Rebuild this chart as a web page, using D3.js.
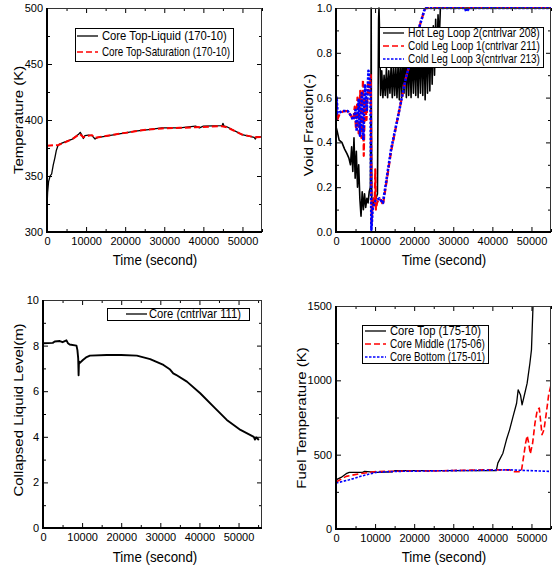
<!DOCTYPE html>
<html>
<head>
<meta charset="utf-8">
<script src="https://cdn.jsdelivr.net/npm/d3@7"></script>
<style>
  body { margin: 0; background: #fff; }
  text { font-family: "Liberation Sans", Arial, sans-serif; fill: #000; font-weight: normal; }
</style>
</head>
<body>
<script>
// ---- data ----
var timeTicks = [0, 10000, 20000, 30000, 40000, 50000];

// panel 1: core top temperatures (K)
var tempLiquid = [[0,322],[150,335],[400,345],[800,350],[1200,352],[1600,360],[2000,366],[2400,373],[2800,377],[3200,378.5],[4600,380.5],[6500,383],[8000,387],[8500,389],[9000,386],[9300,383.5],[9700,386],[10600,386.5],[11500,386],[12300,383],[13000,384.5],[14000,385],[16600,386.5],[20000,388.5],[22600,390],[26000,391.5],[29400,393],[34000,393],[38000,394.5],[39000,393],[40000,394.5],[44800,395],[45000,397],[45300,394.5],[46000,394],[49900,387],[53000,384.5],[53300,383],[53600,385],[55000,385]];
var tempSat = [[0,377],[2900,377.7],[4600,380],[6500,383],[8000,386.6],[8400,387.5],[9300,384.6],[10600,386],[11500,386.5],[12300,384],[14000,385],[16600,386.6],[20000,388.5],[22600,390],[26000,391.5],[29400,392.5],[34000,393],[38000,393.5],[44800,394.5],[46000,393.5],[49900,387],[53300,384.5],[55000,385]];
var tempLabels = ["Core Top-Liquid (170-10)", "Core Top-Saturation (170-10)"];

// panel 2: void fractions (-)
var voidHotLeg2 = [[0,0.47],[300,0.45],[800,0.41],[1500,0.40],[2200,0.37],[2800,0.35],[3300,0.33],[3700,0.30],[4000,0.38],[4300,0.27],[4600,0.42],[4900,0.24],[5200,0.36],[5500,0.20],[5800,0.30],[6100,0.15],[6400,0.07],[6700,0.18],[7000,0.10],[7300,0.17],[7600,0.11],[7900,0.15],[8200,0.13],[8500,0.18],[8800,0.20],[8950,0.60],[9000,1.0],[9050,0.55],[9150,0.15],[9400,0.12],[9800,0.14],[10200,0.15],[10600,0.17],[10900,0.95],[11000,1.0],[11200,0.85],[11400,0.61],[11700,0.72],[12000,0.60],[12300,0.70],[12600,0.61],[12900,0.73],[13200,0.60],[13500,0.72],[13800,0.62],[14100,0.74],[14400,0.60],[14700,0.75],[15000,0.61],[15300,0.74],[15600,0.60],[15900,0.76],[16200,0.59],[16500,0.77],[16800,0.60],[17100,0.78],[17400,0.62],[17700,0.79],[18000,0.60],[18300,0.80],[18600,0.61],[18900,0.81],[19200,0.60],[19500,0.82],[19800,0.62],[20100,0.83],[20400,0.61],[20700,0.84],[21000,0.60],[21300,0.85],[21600,0.62],[21900,0.86],[22200,0.61],[22500,0.87],[22800,0.59],[23100,0.88],[23400,0.62],[23700,0.89],[24000,0.63],[24300,0.90],[24600,0.66],[24900,0.92],[25200,0.70],[25500,0.95],[25800,0.75],[26100,0.97],[26400,0.85],[26700,1.0],[55000,1.0]];
var voidColdLeg1 = [[0,0.50],[150,0.58],[300,0.50],[1000,0.53],[2000,0.54],[3000,0.54],[3800,0.52],[4400,0.50],[4800,0.56],[5100,0.46],[5500,0.60],[5800,0.44],[6200,0.63],[6500,0.42],[6900,0.68],[7100,0.34],[7400,0.60],[7800,0.50],[8200,0.66],[8600,0.62],[8900,0.70],[9000,0.40],[9100,0.04],[9300,0.10],[9600,0.15],[9900,0.12],[10050,0.28],[10200,0.10],[10500,0.13],[11000,0.15],[11600,0.14],[12000,0.12],[12800,0.21],[14100,0.36],[15800,0.51],[17900,0.69],[19700,0.80],[21400,0.92],[22600,0.99],[23000,1.0],[55000,1.0]];
var voidColdLeg3 = [[0,0.50],[150,0.60],[400,0.53],[1700,0.54],[3000,0.54],[3800,0.52],[4400,0.50],[5000,0.545],[5300,0.45],[5800,0.59],[6150,0.43],[6600,0.62],[7000,0.41],[7400,0.66],[7900,0.545],[8300,0.72],[8800,0.65],[9050,0.01],[9400,0.11],[10100,0.14],[11100,0.15],[12000,0.13],[12800,0.22],[14100,0.37],[15800,0.51],[17900,0.69],[19700,0.80],[21400,0.92],[22600,0.99],[23000,1.0],[33000,1.0],[33300,0.985],[34200,1.0],[55000,1.0]];
var voidLabels = ["Hot Leg Loop 2(cntrlvar 208)", "Cold Leg Loop 1(cntrlvar 211)", "Cold Leg Loop 3(cntrlvar 213)"];

// panel 3: collapsed liquid level (m)
var coreLevel = [[0,8.1],[2500,8.12],[3000,8.18],[4300,8.2],[5000,8.15],[6000,8.23],[6400,8.1],[6800,8.05],[8560,8.0],[8800,7.8],[9000,7.44],[9100,6.7],[9200,7.3],[9300,7.22],[10200,7.37],[11000,7.48],[12000,7.56],[16300,7.59],[20000,7.59],[24000,7.56],[27400,7.41],[30800,7.15],[32500,6.95],[33300,6.78],[34000,6.72],[36800,6.42],[40200,5.91],[43600,5.32],[47000,4.74],[50500,4.30],[53900,4.0],[54200,3.88],[54500,3.98],[55200,3.86]];
var levelLabels = ["Core (cntrlvar 111)"];

// panel 4: fuel temperatures (K)
var fuelTop = [[0,331],[1300,347],[2600,372],[3400,381],[6800,381],[7300,387],[10300,381],[14500,385],[15000,392],[27350,392],[41000,392],[41400,443],[42700,510],[43600,600],[44400,667],[45300,757],[46200,846],[46600,936],[47200,902],[47600,835],[48300,913],[48900,981],[49600,1115],[50000,1205],[50400,1500]];
var fuelMid = [[0,316],[2600,354],[6000,372],[10300,387],[27350,392],[37600,398],[44400,398],[45700,385],[47400,385],[48000,488],[48500,578],[48900,627],[49300,578],[49700,506],[50300,578],[50900,712],[51500,802],[52000,813],[52400,712],[52700,634],[53200,667],[53800,779],[54400,902],[55000,969]];
var fuelBot = [[0,309],[3400,331],[6800,358],[10300,381],[14500,387],[27350,392],[35000,394],[44400,398],[55000,387]];
var fuelLabels = ["Core Top (175-10)", "Core Middle (175-06)", "Core Bottom (175-01)"];

// ---- drawing ----
var svg = d3.select("body").append("svg")
  .attr("width", 552)
  .attr("height", 566);

var styles = {
  black: {stroke: "#000", width: 1.3, dash: null},
  red: {stroke: "#ff0000", width: 1.6, dash: "6,3"},
  blue: {stroke: "#0000ff", width: 1.6, dash: "2.5,1.5"}
};

// squeeze a text horizontally (like the narrow font of the original) so it fits in maxLen
function squeeze(sel, x, y, k, maxLen) {
  sel.each(function() {
    var len = this.getComputedTextLength();
    var s = k;
    if (maxLen && len * s > maxLen) s = maxLen / len;
    d3.select(this).attr("transform", "translate(" + x + "," + y + ") scale(" + s + ",1)");
  });
}

function drawPanel(p, idx) {
  var g = svg.append("g");
  var x = d3.scaleLinear().domain(p.xDomain).range([p.left, p.right]);
  var y = d3.scaleLinear().domain(p.yDomain).range([p.bottom, p.top]);

  var clipId = "clip" + idx;
  svg.append("clipPath").attr("id", clipId).append("rect")
    .attr("x", p.left).attr("y", p.top - 1)
    .attr("width", p.right - p.left).attr("height", p.bottom - p.top + 1);

  var line = d3.line().x(function(d) { return x(d[0]); }).y(function(d) { return y(d[1]); });

  var lines = g.append("g").attr("clip-path", "url(#" + clipId + ")");
  p.series.forEach(function(s) {
    var st = styles[s.style];
    lines.append("path")
      .datum(s.data)
      .attr("d", line)
      .attr("fill", "none")
      .attr("stroke", st.stroke)
      .attr("stroke-width", s.width || st.width)
      .attr("stroke-dasharray", st.dash)
      .attr("stroke-linejoin", "round");
  });

  // axes, ticks pointing inward on all four sides
  var minorX = d3.range(0, p.xDomain[1] + 1, 5000).filter(function(v) { return timeTicks.indexOf(v) < 0; });
  var minorY = d3.range(p.yDomain[0], p.yDomain[1] + 1e-9, p.yStep / 2)
    .filter(function(v, i) { return i % 2 == 1; });
  var majorY = d3.range(p.yDomain[0], p.yDomain[1] + 1e-9, p.yStep);

  function addAxis(axis, tx, ty, labels) {
    var a = g.append("g").attr("transform", "translate(" + tx + "," + ty + ")").call(axis);
    a.attr("font-family", null).attr("font-size", null);
    a.select(".domain").remove();
    a.selectAll("line").attr("stroke", "#000").attr("stroke-width", 1);
    if (labels) a.selectAll("text").attr("font-size", 11);
    else a.selectAll("text").remove();
    return a;
  }

  addAxis(d3.axisBottom(x).tickValues(timeTicks).tickSize(-5).tickSizeOuter(0).tickPadding(5).tickFormat(d3.format("d")), 0, p.bottom, true);
  addAxis(d3.axisBottom(x).tickValues(minorX).tickSize(-3).tickSizeOuter(0), 0, p.bottom, false);
  addAxis(d3.axisTop(x).tickValues(timeTicks).tickSize(-5).tickSizeOuter(0), 0, p.top, false);
  addAxis(d3.axisTop(x).tickValues(minorX).tickSize(-3).tickSizeOuter(0), 0, p.top, false);
  addAxis(d3.axisLeft(y).tickValues(majorY).tickSize(-5).tickSizeOuter(0).tickPadding(4).tickFormat(d3.format(p.yFormat)), p.left, 0, true);
  addAxis(d3.axisLeft(y).tickValues(minorY).tickSize(-3).tickSizeOuter(0), p.left, 0, false);
  addAxis(d3.axisRight(y).tickValues(majorY).tickSize(-5).tickSizeOuter(0), p.right, 0, false);
  addAxis(d3.axisRight(y).tickValues(minorY).tickSize(-3).tickSizeOuter(0), p.right, 0, false);

  // frame
  g.append("line").attr("x1", p.left).attr("x2", p.right).attr("y1", p.top + 0.5).attr("y2", p.top + 0.5)
    .attr("stroke", "#333").attr("stroke-width", 1);
  g.append("line").attr("x1", p.right - 0.5).attr("x2", p.right - 0.5).attr("y1", p.top).attr("y2", p.bottom)
    .attr("stroke", "#333").attr("stroke-width", 1);
  g.append("line").attr("x1", p.left).attr("x2", p.left).attr("y1", p.top).attr("y2", p.bottom + 1)
    .attr("stroke", "#000").attr("stroke-width", 2);
  g.append("line").attr("x1", p.left - 1).attr("x2", p.right).attr("y1", p.bottom).attr("y2", p.bottom)
    .attr("stroke", "#000").attr("stroke-width", 2);

  // legend
  var lg = p.legend;
  g.append("rect")
    .attr("x", lg.x0 + 0.5).attr("y", lg.y0 + 0.5)
    .attr("width", lg.x1 - lg.x0).attr("height", lg.y1 - lg.y0)
    .attr("fill", "#fff").attr("stroke", "#000").attr("stroke-width", 1);
  p.series.forEach(function(s, i) {
    var st = styles[s.style];
    var ry = lg.rows[i];
    g.append("line")
      .attr("x1", lg.sx0).attr("x2", lg.sx1).attr("y1", ry).attr("y2", ry)
      .attr("stroke", st.stroke).attr("stroke-width", st.width).attr("stroke-dasharray", st.dash);
    g.append("text")
      .attr("dy", "0.35em")
      .attr("font-size", 12.5)
      .text(s.label)
      .call(squeeze, lg.tx, ry, 0.9, lg.x1 - lg.tx - 3);
  });

  // titles
  g.append("text")
    .attr("text-anchor", "middle").attr("font-size", 15.5)
    .text("Time (second)")
    .call(squeeze, p.xTitle[0], p.xTitle[1], 0.86);
  g.append("text")
    .attr("transform", "translate(" + p.yTitle[0] + "," + p.yTitle[1] + ") rotate(-90) scale(1,0.9)")
    .attr("text-anchor", "middle").attr("dy", "0.35em").attr("font-size", 15)
    .text(p.yLabel);
}

var panels = [
  {left: 47, right: 262, top: 8, bottom: 232, xDomain: [0, 55000], yDomain: [300, 500], yStep: 50, yFormat: "d",
   yLabel: "Temperature (K)", xTitle: [155, 265], yTitle: [18, 120],
   series: [{data: tempLiquid, style: "black", label: tempLabels[0]}, {data: tempSat, style: "red", label: tempLabels[1], width: 2}],
   legend: {x0: 75, y0: 28, x1: 233, y1: 61, rows: [36, 52], sx0: 77, sx1: 98, tx: 102}},
  {left: 336, right: 551, top: 8, bottom: 232, xDomain: [0, 55000], yDomain: [0, 1], yStep: 0.2, yFormat: ".1f",
   yLabel: "Void Fraction(-)", xTitle: [444, 265], yTitle: [308, 125],
   series: [{data: voidHotLeg2, style: "black", label: voidLabels[0], width: 1.6}, {data: voidColdLeg1, style: "red", label: voidLabels[1], width: 2.2}, {data: voidColdLeg3, style: "blue", label: voidLabels[2], width: 2.6}],
   legend: {x0: 379, y0: 27, x1: 543, y1: 67, rows: [33, 46, 59], sx0: 383, sx1: 404, tx: 408}},
  {left: 43, right: 262, top: 300, bottom: 528, xDomain: [0, 56000], yDomain: [0, 10], yStep: 2, yFormat: "d",
   yLabel: "Collapsed Liquid Level(m)", xTitle: [155, 562], yTitle: [18, 410],
   series: [{data: coreLevel, style: "black", label: levelLabels[0], width: 1.9}],
   legend: {x0: 107, y0: 308, x1: 249, y1: 320, rows: [314], sx0: 126, sx1: 147, tx: 149}},
  {left: 336, right: 551, top: 306, bottom: 529, xDomain: [0, 55000], yDomain: [0, 1500], yStep: 500, yFormat: "d",
   yLabel: "Fuel Temperature (K)", xTitle: [444, 562], yTitle: [301, 418],
   series: [{data: fuelTop, style: "black", label: fuelLabels[0]}, {data: fuelMid, style: "red", label: fuelLabels[1]}, {data: fuelBot, style: "blue", label: fuelLabels[2]}],
   legend: {x0: 362, y0: 325, x1: 488, y1: 363, rows: [331, 344, 357], sx0: 365, sx1: 386, tx: 390}}
];

panels.forEach(drawPanel);
</script>
</body>
</html>
